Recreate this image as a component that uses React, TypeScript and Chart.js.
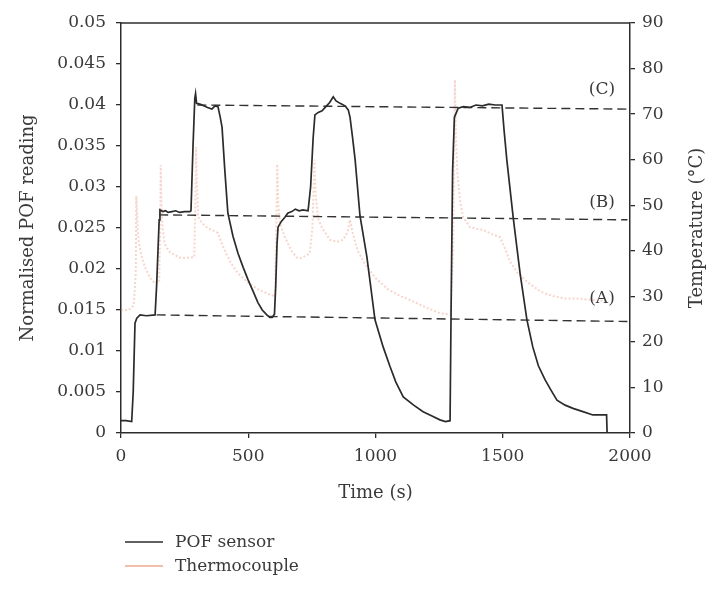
import React, { useEffect, useRef } from "react";
import { Chart, registerables } from "chart.js";

Chart.register(...registerables);

// POF sensor (normalised reading) vs time (s)
const pofTime = [
  0, 20, 42, 48, 55, 62, 75, 100, 134, 140, 150, 153, 165, 175, 185, 200, 215, 230, 250, 270, 275,
  283, 290, 293, 297, 310, 325, 340, 357, 370, 381, 390, 397, 408, 420, 440, 460, 480, 499, 520,
  538, 555, 573, 585, 594, 603, 608, 613, 617, 630, 644, 655, 671, 685, 700, 715, 735, 745, 755,
  762, 775, 790, 805, 820, 834, 845, 861, 880, 893, 900, 910, 920, 939, 966, 998, 1030, 1057, 1080,
  1109, 1150, 1187, 1220, 1253, 1275, 1293, 1297, 1303, 1310, 1325, 1345, 1370, 1395, 1420, 1445,
  1470, 1497, 1505, 1516, 1541, 1568, 1595, 1618, 1640, 1666, 1690, 1713, 1745, 1776, 1815, 1854,
  1880, 1908, 1910,
];
const pofValue = [
  0.0015, 0.0015, 0.0014, 0.005, 0.0134, 0.014, 0.0144, 0.0143, 0.0144, 0.018, 0.026, 0.0272, 0.027,
  0.0271, 0.0269, 0.027, 0.0271, 0.0269, 0.027, 0.027, 0.0271, 0.035, 0.0408, 0.0414, 0.0402,
  0.0401, 0.0399, 0.0397, 0.0395, 0.0399, 0.0398, 0.0385, 0.0373, 0.032, 0.0268, 0.024, 0.0219,
  0.0202, 0.0187, 0.0172, 0.0159, 0.015, 0.0144, 0.0141, 0.0141, 0.0145, 0.018, 0.023, 0.0251,
  0.0258, 0.0263, 0.0268, 0.027, 0.0273, 0.0271, 0.0272, 0.0271, 0.03, 0.036, 0.0388, 0.0391,
  0.0393, 0.0398, 0.0403, 0.041, 0.0405, 0.0402, 0.0399, 0.0394, 0.0385, 0.036, 0.0333, 0.0265,
  0.0215, 0.0138, 0.0105, 0.0081, 0.0062, 0.0044, 0.0034, 0.0026, 0.0021, 0.0016, 0.0014, 0.0015,
  0.015, 0.032, 0.0385, 0.0396, 0.0398, 0.0397, 0.04, 0.0399, 0.0401, 0.04, 0.04, 0.037, 0.0333,
  0.0263, 0.0195, 0.0138, 0.0105, 0.0082, 0.0065, 0.0052, 0.004, 0.0034, 0.003, 0.0026, 0.0022,
  0.0022, 0.0022, 0,
];

// Thermocouple temperature (°C) vs time (s)
const tcTime = [
  0, 30, 50, 58, 60, 64, 68, 80, 94, 115, 133, 150, 154, 156, 159, 162, 170, 178, 195, 212, 230,
  251, 270, 288, 292, 295, 298, 303, 320, 340, 360, 381, 400, 430, 460, 500, 540, 580, 605, 610,
  614, 618, 625, 644, 670, 690, 707, 730, 742, 752, 760, 765, 775, 790, 821, 850, 872, 890, 900,
  910, 930, 960, 1000, 1050, 1100, 1135, 1200, 1253, 1295, 1305, 1312, 1316, 1322, 1332, 1344,
  1371, 1400, 1422, 1460, 1489, 1505, 1530, 1560, 1600, 1650, 1700, 1750, 1800, 1850, 1900,
];
const tcTemp = [
  27, 27, 28, 35, 52, 47, 42.4, 39, 36.4, 34, 32.9, 33, 45, 58.8, 50, 46, 42, 40.8, 39.5, 39.1, 38.5,
  38.4, 38.5, 38.6, 50, 62.8, 55, 47.4, 46, 45, 44.5, 43.9, 41, 37.5, 35, 33, 31.5, 30.5, 30, 45,
  59, 50, 46, 43, 40, 38.5, 38.4, 39, 39.5, 45, 60, 52, 47, 45, 42.4, 42, 42.4, 44, 46.8, 44, 40,
  37, 34, 31.5, 30, 29.2, 27.5, 26.3, 26, 40, 77.5, 65, 57, 51, 47.4, 45.2, 44.8, 44.6, 43.6, 43,
  41, 37.5, 35, 33, 31, 30, 29.5, 29.5, 29.2, 29,
];

// Reference levels (dashed lines) on the POF axis
const refLabels = ["(A)", "(B)", "(C)"];
const refStartTime = [140, 150, 300];
const refEndTime = [1990, 1990, 1990];
const refStartValue = [0.0144, 0.0266, 0.04];
const refEndValue = [0.0136, 0.026, 0.0395];
const refLabelTime = [1890, 1890, 1890];
const refLabelValue = [0.0164, 0.0281, 0.0419];

const xMax = 2000;
const xStep = 500;
const yMax = 0.05;
const yStep = 0.005;
const tMax = 90;
const tStep = 10;

const seriesNames = ["POF sensor", "Thermocouple"];
const xTitle = "Time (s)";
const yTitle = "Normalised POF reading";
const y2Title = "Temperature (°C)";

const FONT = "'DejaVu Serif', serif";
const TEXT = "#3a3a3a";
const AXIS = "#2c2c2c";
const POF_COLOR = "#2b2b2b";
const TC_COLOR = "rgba(236,150,128,0.4)";
const TC_LEGEND = "rgba(236,150,128,0.85)";

export default function App() {
  const ref = useRef<HTMLCanvasElement | null>(null);

  useEffect(() => {
    if (!ref.current) return;

    const overlay = {
      id: "overlay",
      afterDraw(chart: any) {
        const { ctx, chartArea, scales } = chart;
        ctx.save();
        // frame top
        ctx.strokeStyle = AXIS;
        ctx.lineWidth = 1.5;
        ctx.beginPath();
        ctx.moveTo(chartArea.left, chartArea.top);
        ctx.lineTo(chartArea.right, chartArea.top);
        ctx.stroke();

        // reference labels
        ctx.fillStyle = TEXT;
        ctx.font = `17px ${FONT}`;
        ctx.textAlign = "center";
        ctx.textBaseline = "middle";
        refLabels.forEach((l, i) => {
          ctx.fillText(
            l,
            scales.x.getPixelForValue(refLabelTime[i]),
            scales.y.getPixelForValue(refLabelValue[i])
          );
        });

        // axis titles
        ctx.font = `18px ${FONT}`;
        ctx.fillText(xTitle, (chartArea.left + chartArea.right) / 2, 493);
        const midY = (chartArea.top + chartArea.bottom) / 2;
        ctx.save();
        ctx.translate(28, midY);
        ctx.rotate(-Math.PI / 2);
        ctx.fillText(yTitle, 0, 0);
        ctx.restore();
        ctx.save();
        ctx.translate(697, midY);
        ctx.rotate(-Math.PI / 2);
        ctx.fillText(y2Title, 0, 0);
        ctx.restore();

        // legend
        const rows = [542, 566];
        const colors = [POF_COLOR, TC_LEGEND];
        const widths = [1.6, 1.4];
        ctx.textAlign = "left";
        ctx.font = `17px ${FONT}`;
        seriesNames.forEach((name, i) => {
          ctx.strokeStyle = colors[i];
          ctx.lineWidth = widths[i];
          ctx.setLineDash([]);
          ctx.beginPath();
          ctx.moveTo(125, rows[i]);
          ctx.lineTo(163, rows[i]);
          ctx.stroke();
          ctx.fillStyle = TEXT;
          ctx.fillText(name, 175, rows[i] + 1);
        });
        ctx.restore();
      },
    };

    const refDatasets = refLabels.map((l, i) => ({
      label: "ref " + l,
      data: [
        { x: refStartTime[i], y: refStartValue[i] },
        { x: refEndTime[i], y: refEndValue[i] },
      ],
      yAxisID: "y",
      borderColor: "#333",
      borderWidth: 1.4,
      borderDash: [9, 5],
      pointRadius: 0,
      fill: false,
    }));

    const tickFont = { family: FONT, size: 17 };

    const chart = new Chart(ref.current, {
      type: "line",
      data: {
        datasets: [
          {
            label: seriesNames[0],
            data: pofTime.map((t, i) => ({ x: t, y: pofValue[i] })),
            yAxisID: "y",
            borderColor: POF_COLOR,
            borderWidth: 1.7,
            pointRadius: 0,
            tension: 0,
            fill: false,
          },
          ...refDatasets,
          {
            label: seriesNames[1],
            data: tcTime.map((t, i) => ({ x: t, y: tcTemp[i] })),
            yAxisID: "y2",
            borderColor: TC_COLOR,
            borderWidth: 2,
            borderDash: [2, 2],
            pointRadius: 0,
            tension: 0,
            fill: false,
          },
        ],
      },
      options: {
        animation: false,
        responsive: false,
        maintainAspectRatio: false,
        layout: { padding: { left: 0, top: 23, right: 37, bottom: 116 } },
        plugins: { legend: { display: false }, tooltip: { enabled: false } },
        scales: {
          x: {
            type: "linear",
            min: 0,
            max: xMax,
            afterFit: (s: any) => {
              s.height = 40;
            },
            ticks: {
              stepSize: xStep,
              font: tickFont,
              color: TEXT,
              padding: 8,
              maxRotation: 0,
              callback: (v: any) => String(v),
            },
            grid: { drawOnChartArea: false, drawTicks: true, tickLength: 5, color: AXIS, lineWidth: 1.3 },
            border: { color: AXIS, width: 1.5 },
          },
          y: {
            type: "linear",
            position: "left",
            min: 0,
            max: yMax,
            afterFit: (s: any) => {
              s.width = 121;
            },
            ticks: {
              stepSize: yStep,
              font: tickFont,
              color: TEXT,
              padding: 10,
              callback: (v: any) => parseFloat(Number(v).toFixed(3)).toString(),
            },
            grid: { drawOnChartArea: false, drawTicks: true, tickLength: 5, color: AXIS, lineWidth: 1.3 },
            border: { color: AXIS, width: 1.5 },
          },
          y2: {
            type: "linear",
            position: "right",
            min: 0,
            max: tMax,
            afterFit: (s: any) => {
              s.width = 40;
            },
            ticks: { stepSize: tStep, font: tickFont, color: TEXT, padding: 7 },
            grid: { drawOnChartArea: false, drawTicks: true, tickLength: 5, color: AXIS, lineWidth: 1.3 },
            border: { color: AXIS, width: 1.5 },
          },
        },
      },
      plugins: [overlay],
    });

    return () => chart.destroy();
  }, []);

  return (
    <canvas
      ref={ref}
      width={707}
      height={589}
      style={{ position: "absolute", left: 0, top: 0, width: 707, height: 589, background: "#fff" }}
    />
  );
}
